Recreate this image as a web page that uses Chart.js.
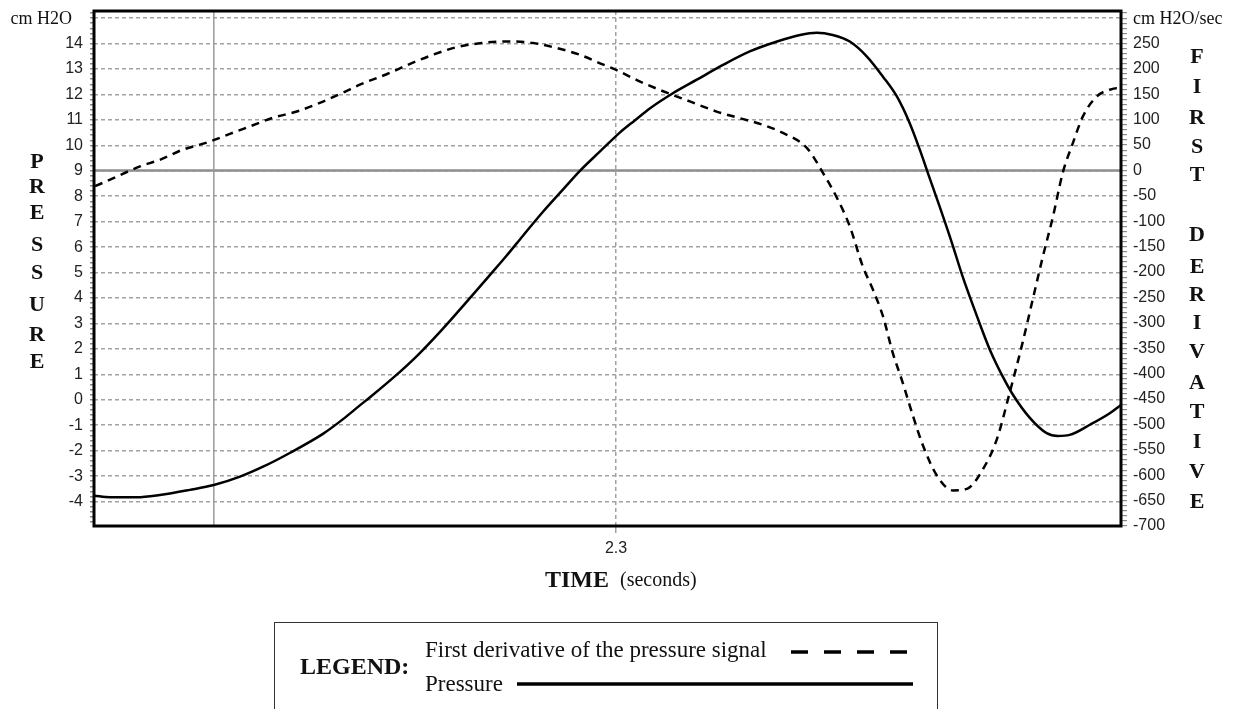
<!DOCTYPE html>
<html lang="en">
<head>
  <meta charset="UTF-8" />
  <title>Pressure and first derivative</title>
  <script src="https://cdn.jsdelivr.net/npm/chart.js"></script>
  <style>
    body {
      margin: 0;
      background: #fff;
    }

    .wrap {
      position: relative;
      width: 1242px;
      height: 709px;
      overflow: hidden;
    }

    .legend-box {
      position: absolute;
      left: 274px;
      top: 622px;
      width: 662px;
      height: 110px;
      border: 1.5px solid #333;
      font-family: 'Liberation Serif', 'Times New Roman', serif;
      color: #111;
    }

    .legend-box span {
      position: absolute;
      white-space: nowrap;
      line-height: 1;
    }

    .legend-title {
      left: 25px;
      top: 31px;
      font-weight: bold;
      font-size: 24px;
    }

    .legend-first {
      left: 150px;
      top: 15px;
      font-size: 23px;
    }

    .legend-second {
      left: 150px;
      top: 49px;
      font-size: 23px;
    }

    .legend-box svg {
      position: absolute;
      left: 0;
      top: 0;
    }
  </style>
</head>
<body>
  <div class="wrap">
    <canvas id="chart" width="1242" height="709"></canvas>

    <div class="legend-box">
      <span class="legend-title">LEGEND:</span>
      <span class="legend-first">First derivative of the pressure signal</span>
      <span class="legend-second">Pressure</span>
      <svg width="662" height="100">
        <line x1="516" y1="29" x2="632" y2="29" stroke="#000" stroke-width="3.5" stroke-dasharray="17 16" />
        <line x1="242" y1="61" x2="638" y2="61" stroke="#000" stroke-width="3.5" />
      </svg>
    </div>
  </div>

  <script>
    // time axis (seconds)
    const timeMin = 2.2024;
    const timeMax = 2.3944;
    const timeTicks = [2.3];
    const cursorTime = 2.2248;

    // pressure signal, cm H2O
    const pressureTime = [
      2.2024, 2.2054, 2.2104, 2.2147, 2.2203, 2.2248, 2.2297, 2.2340, 2.2390, 2.2452,
      2.2489, 2.2521, 2.2540, 2.2583, 2.2628, 2.2676, 2.2721, 2.2764, 2.2796, 2.2826,
      2.2863, 2.2901, 2.2932, 2.2970, 2.3007, 2.3035, 2.3063, 2.3104, 2.3151, 2.3200,
      2.3250, 2.3301, 2.3344, 2.3375, 2.3405, 2.3437, 2.3469, 2.3499, 2.3525, 2.3549,
      2.3568, 2.3583, 2.3605, 2.3628, 2.3648, 2.3675, 2.3699, 2.3723, 2.3742, 2.3774,
      2.3805, 2.3826, 2.3848, 2.3886, 2.3923, 2.3944
    ];
    const pressureValues = [
      -3.77, -3.83, -3.83, -3.74, -3.54, -3.35, -3.02, -2.63, -2.09, -1.34,
      -0.77, -0.22, 0.10, 0.86, 1.73, 2.79, 3.86, 4.90, 5.68, 6.45,
      7.38, 8.27, 8.99, 9.76, 10.50, 10.98, 11.45, 12.02, 12.58, 13.16,
      13.69, 14.08, 14.34, 14.43, 14.34, 14.08, 13.49, 12.70, 11.92, 10.87,
      9.82, 8.91, 7.59, 6.16, 4.84, 3.27, 1.96, 0.91, 0.20, -0.72,
      -1.31, -1.42, -1.38, -0.98, -0.53, -0.20
    ];

    // first derivative, cm H2O/sec
    const derivTime = [
      2.2026, 2.2054, 2.2110, 2.2147, 2.2190, 2.2235, 2.2278, 2.2316, 2.2359, 2.2403,
      2.2446, 2.2489, 2.2521, 2.2572, 2.2615, 2.2658, 2.2703, 2.2749, 2.2802, 2.2845,
      2.2889, 2.2932, 2.2970, 2.3002, 2.3045, 2.3088, 2.3138, 2.3188, 2.3231, 2.3274,
      2.3312, 2.3357, 2.3387, 2.3413, 2.3437, 2.3461, 2.3480, 2.3499, 2.3517, 2.3536,
      2.3555, 2.3574, 2.3600, 2.3630, 2.3656, 2.3686, 2.3712, 2.3736, 2.3760, 2.3779,
      2.3798, 2.3817, 2.3835, 2.3854, 2.3873, 2.3899, 2.3923, 2.3936, 2.3944
    ];
    const derivValues = [
      -31, -18, 8, 21, 41, 55, 72, 87, 104, 116,
      133, 153, 169, 190, 210, 228, 243, 251, 254, 251,
      241, 228, 211, 197, 175, 156, 136, 116, 103, 90,
      74, 44, -5, -54, -110, -188, -234, -287, -358, -418,
      -483, -542, -601, -630, -627, -588, -529, -437, -339, -254,
      -169, -90, -5, 54, 107, 146, 159, 162, 156
    ];

    // axis ranges; the right axis is the left one shifted by 9 and scaled by 50
    const pressureMin = -4.96;
    const pressureMax = 15.28;
    const pressureTop = 15;
    const derivMin = -700;
    const derivMax = 314;
    const derivZero = 0;

    const serif = "'Liberation Serif', 'Times New Roman', serif";
    const sans = "'Liberation Sans', Arial, sans-serif";
    const gridGray = '#a2a2a2';

    const isWhole = v => Math.abs(v - Math.round(v)) < 1e-6;

    function toPoints(xs, ys) {
      return xs.map((x, i) => ({ x: x, y: ys[i] }));
    }

    // keep the plot frame where the layout padding puts it
    function noLabelPadding(s) {
      s.paddingTop = 0;
      s.paddingBottom = 0;
      s.paddingLeft = 0;
      s.paddingRight = 0;
    }

    function stackLetters(ctx, word, x, ys) {
      let k = 0;
      for (const ch of word) {
        if (ch === ' ') continue;
        ctx.fillText(ch, x, ys[k++]);
      }
    }

    const decor = {
      id: 'decor',
      beforeDatasetsDraw(chart) {
        const { ctx, chartArea: a, scales } = chart;
        ctx.save();
        // zero line of the derivative
        const y0 = scales.y2.getPixelForValue(derivZero);
        ctx.strokeStyle = '#8e8e8e';
        ctx.lineWidth = 2.5;
        ctx.beginPath();
        ctx.moveTo(a.left, y0);
        ctx.lineTo(a.right, y0);
        ctx.stroke();
        // cursor line
        const xc = scales.x.getPixelForValue(cursorTime);
        ctx.strokeStyle = '#9a9a9a';
        ctx.lineWidth = 1.5;
        ctx.beginPath();
        ctx.moveTo(xc, a.top);
        ctx.lineTo(xc, a.bottom);
        ctx.stroke();
        ctx.restore();
      },
      afterDatasetsDraw(chart) {
        const { ctx, chartArea: a } = chart;
        ctx.save();
        ctx.strokeStyle = '#000';
        ctx.lineWidth = 3;
        ctx.strokeRect(a.left, a.top, a.right - a.left, a.bottom - a.top);
        ctx.restore();
      },
      afterDraw(chart) {
        const { ctx, scales } = chart;
        const yTop = scales.y.getPixelForValue(pressureTop);
        ctx.save();
        ctx.fillStyle = '#111';
        ctx.textBaseline = 'middle';

        ctx.font = '18px ' + serif;
        ctx.textAlign = 'right';
        ctx.fillText('cm H2O', 72, yTop + 1);
        ctx.textAlign = 'left';
        ctx.fillText('cm H2O/sec', 1133, yTop + 1);

        ctx.font = 'bold 22px ' + serif;
        ctx.textAlign = 'center';
        stackLetters(ctx, 'PRESSURE', 37, [162, 187, 213, 245, 273, 305, 335, 362]);
        stackLetters(ctx, 'FIRST DERIVATIVE', 1197,
          [57, 87, 118, 147, 175, 235, 267, 295, 323, 352, 383, 412, 442, 472, 502]);

        ctx.textBaseline = 'alphabetic';
        ctx.textAlign = 'left';
        ctx.font = 'bold 24px ' + serif;
        ctx.fillText('TIME', 545, 587);
        ctx.font = '20px ' + serif;
        ctx.fillText('(seconds)', 620, 586);
        ctx.restore();
      }
    };

    new Chart(document.getElementById('chart'), {
      type: 'line',
      data: {
        datasets: [
          {
            label: 'Pressure',
            data: toPoints(pressureTime, pressureValues),
            yAxisID: 'y',
            borderColor: '#000',
            borderWidth: 2.5,
            pointRadius: 0,
            cubicInterpolationMode: 'monotone'
          },
          {
            label: 'First derivative of the pressure signal',
            data: toPoints(derivTime, derivValues),
            yAxisID: 'y2',
            borderColor: '#000',
            borderWidth: 2.5,
            borderDash: [8, 6],
            pointRadius: 0,
            cubicInterpolationMode: 'monotone'
          }
        ]
      },
      options: {
        responsive: false,
        animation: false,
        layout: { padding: { top: 11, bottom: 143, left: 0, right: 0 } },
        plugins: {
          legend: { display: false },
          tooltip: { enabled: false }
        },
        scales: {
          x: {
            type: 'linear',
            min: timeMin,
            max: timeMax,
            afterBuildTicks: s => { s.ticks = timeTicks.map(v => ({ value: v })); },
            afterFit: s => { s.height = 40; noLabelPadding(s); },
            ticks: {
              callback: v => v.toFixed(1),
              font: { family: sans, size: 16 },
              color: '#222',
              padding: 6
            },
            grid: { color: gridGray, lineWidth: 1.5, tickLength: 7, tickColor: gridGray },
            border: { display: false, dash: [4, 3] }
          },
          y: {
            position: 'left',
            min: pressureMin,
            max: pressureMax,
            afterBuildTicks: s => {
              const t = [];
              for (let i = 0; i <= 100; i++) t.push({ value: Math.round((-4.8 + i * 0.2) * 10) / 10 });
              s.ticks = t;
            },
            afterFit: s => { s.width = 94; noLabelPadding(s); },
            ticks: {
              autoSkip: false,
              callback: v => (isWhole(v) && v !== pressureTop ? String(Math.round(v)) : ''),
              font: { family: sans, size: 16 },
              color: '#222',
              padding: 7
            },
            grid: {
              color: c => (isWhole(c.tick.value) ? gridGray : 'rgba(0,0,0,0)'),
              tickColor: '#8a8a8a',
              lineWidth: 1.5,
              tickLength: 4
            },
            border: { display: false, dash: [4, 3] }
          },
          y2: {
            position: 'right',
            min: derivMin,
            max: derivMax,
            afterBuildTicks: s => {
              const t = [];
              for (let v = derivMin; v <= 310; v += 10) t.push({ value: v });
              s.ticks = t;
            },
            afterFit: s => { s.width = 121; noLabelPadding(s); },
            ticks: {
              autoSkip: false,
              callback: v => (v % 50 === 0 && v !== 300 ? String(v) : ''),
              font: { family: sans, size: 16 },
              color: '#222',
              padding: 6
            },
            grid: {
              drawOnChartArea: false,
              color: '#8a8a8a',
              lineWidth: 1.2,
              tickLength: 6
            },
            border: { display: false }
          }
        }
      },
      plugins: [decor]
    });
  </script>
</body>
</html>
